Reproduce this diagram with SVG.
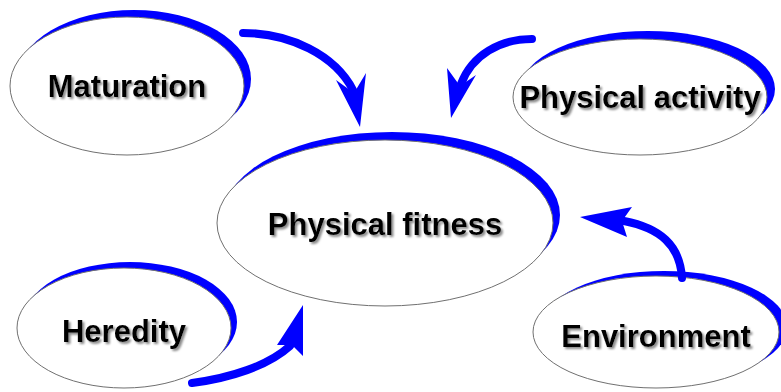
<svg xmlns="http://www.w3.org/2000/svg" width="781" height="392" viewBox="0 0 781 392">
<style>
.crest{fill:#0000ff}
.body{fill:#ffffff;stroke:#707070;stroke-width:1}
.lbl{font-family:"Liberation Sans",Arial,sans-serif;font-weight:bold;font-size:31px;text-anchor:middle;fill:#000;filter:url(#shadow)}
.shaft{fill:none;stroke:#0000ff;stroke-width:8;stroke-linecap:round}
.head{fill:#0000ff}
</style>
<defs>
<filter id="shadow" x="-10%" y="-30%" width="120%" height="170%">
<feGaussianBlur in="SourceAlpha" stdDeviation="0.9" result="b"/>
<feOffset in="b" dx="2" dy="2" result="o"/>
<feFlood flood-color="#8a8a8a" result="c"/>
<feComposite in="c" in2="o" operator="in" result="s"/>
<feMerge><feMergeNode in="s"/><feMergeNode in="SourceGraphic"/></feMerge>
</filter>
</defs>
<rect width="781" height="392" fill="#fff"/>
<g id="maturation">
<ellipse class="crest" cx="134" cy="79" rx="117" ry="69"/>
<ellipse class="body" cx="127" cy="86" rx="117" ry="69"/>
<text class="lbl" x="127" y="97">Maturation</text>
</g>
<g id="physical-activity">
<ellipse class="crest" cx="648" cy="89" rx="127" ry="58"/>
<ellipse class="body" cx="640" cy="97" rx="127" ry="58"/>
<text class="lbl" x="640" y="108">Physical activity</text>
</g>
<g id="physical-fitness">
<ellipse class="crest" cx="392" cy="215" rx="168" ry="83"/>
<ellipse class="body" cx="385" cy="223" rx="168" ry="83"/>
<text class="lbl" x="385" y="235">Physical fitness</text>
</g>
<g id="heredity">
<ellipse class="crest" cx="130" cy="322" rx="107" ry="60"/>
<ellipse class="body" cx="124" cy="328" rx="107" ry="60"/>
<text class="lbl" x="124" y="342">Heredity</text>
</g>
<g id="environment">
<ellipse class="crest" cx="664" cy="327" rx="123" ry="56"/>
<ellipse class="body" cx="656" cy="332" rx="123" ry="56"/>
<text class="lbl" x="656" y="347">Environment</text>
</g>
<g id="connectors">
<path class="shaft" d="M243,33 C290,33 335,55 353,90"/>
<polygon class="head" points="336,80 354,93 366,73 360,127"/>
<path class="shaft" d="M532,39 C500,39 472,55 461,84"/>
<polygon class="head" points="447,68 460,86 476,75 451,118"/>
<path class="shaft" d="M192,383 C230,378 268,366 290,346"/>
<polygon class="head" points="277,345 292,345 303,356 303,305"/>
<path class="shaft" d="M682,278 C680,245 660,228 624,221"/>
<polygon class="head" points="632,207 622,221 627,237 580,217"/>
</g>
</svg>
